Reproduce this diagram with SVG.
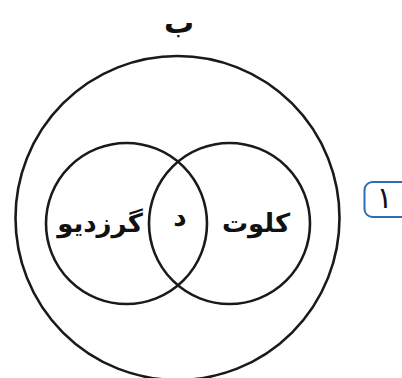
<svg xmlns="http://www.w3.org/2000/svg" width="402" height="378" viewBox="0 0 402 378">
<style>
.c{fill:none;stroke:#1a1a1a;stroke-width:2.6}
.t{font-family:"DejaVu Sans","Noto Sans",sans-serif;font-weight:bold;fill:#111;text-anchor:middle}
</style>
<rect width="402" height="378" fill="#fff"/>
<g id="outer">
<circle class="c" cx="177.5" cy="218" r="162"/>
<text class="t" x="179" y="33" font-size="30">ب</text>
</g>
<g id="left">
<circle class="c" cx="126.5" cy="223.5" r="80.5"/>
<text class="t" x="100" y="232" font-size="26">گرزدیو</text>
</g>
<g id="right">
<circle class="c" cx="229.5" cy="223.5" r="80.5"/>
<text class="t" x="256" y="232" font-size="26">کلوت</text>
</g>
<g id="middle">
<text class="t" x="180" y="226" font-size="26">د</text>
</g>
<g id="label">
<rect x="364.5" y="182" width="50" height="35" rx="8" fill="#fff" stroke="#2e6db4" stroke-width="2"/>
<text x="384.5" y="208" font-family="DejaVu Sans,sans-serif" font-size="30" fill="#111" text-anchor="middle">۱</text>
</g>
</svg>
